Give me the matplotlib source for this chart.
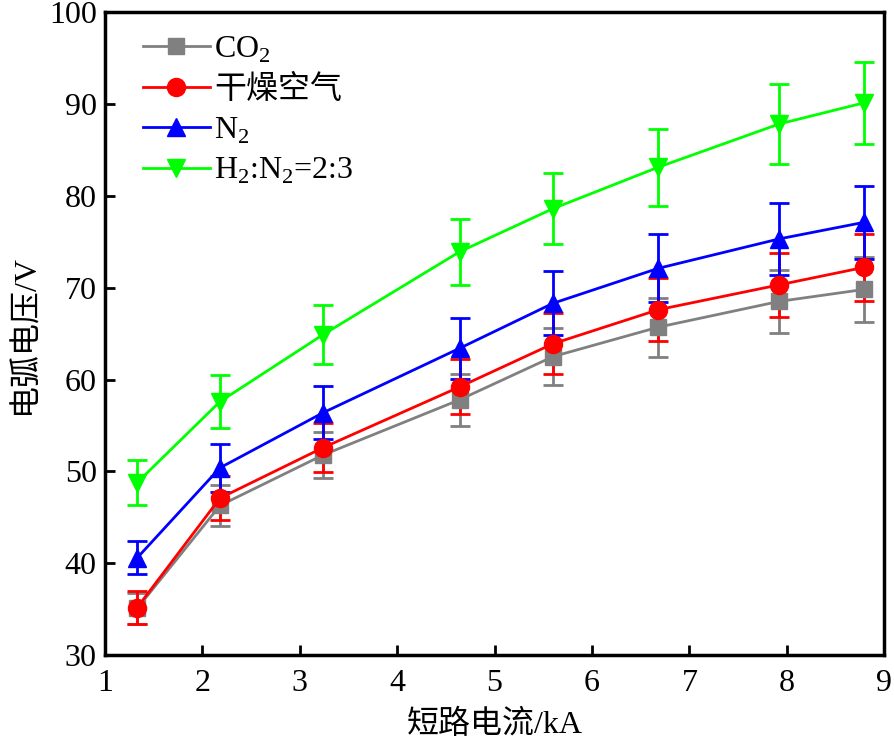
import numpy as np
import matplotlib.pyplot as plt
from matplotlib.lines import Line2D

plt.rcParams['font.family'] = ['Liberation Serif', 'Noto Sans CJK SC']
plt.rcParams['mathtext.fontset'] = 'custom'
plt.rcParams['mathtext.rm'] = 'Liberation Serif'

# ----------------------------------
# Data
# ----------------------------------

current = [1.33, 2.18, 3.24, 4.64, 5.60, 6.68, 7.92, 8.79]

co2 = [35.1, 46.3, 51.8, 57.8, 62.5, 65.7, 68.5, 69.8]
co2_err = [1.7, 2.2, 2.5, 2.8, 3.1, 3.2, 3.4, 3.5]

air = [35.2, 47.1, 52.6, 59.2, 63.9, 67.6, 70.3, 72.2]
air_err = [1.8, 2.4, 2.7, 3.0, 3.3, 3.4, 3.5, 3.6]

n2 = [40.6, 50.4, 56.4, 63.4, 68.3, 72.1, 75.3, 77.1]
n2_err = [1.8, 2.6, 2.9, 3.3, 3.5, 3.7, 3.9, 4.0]

h2n2 = [48.8, 57.6, 64.9, 73.9, 78.6, 83.1, 87.8, 90.1]
h2n2_err = [2.5, 2.9, 3.2, 3.6, 3.9, 4.2, 4.4, 4.5]

series = [
    (co2, co2_err, "gray", "s", 12, r"CO$_\mathregular{2}$"),
    (air, air_err, "red", "o", 13, "干燥空气"),
    (n2, n2_err, "blue", "^", 13, r"N$_\mathregular{2}$"),
    (h2n2, h2n2_err, "#00ff00", "v", 13,
     r"H$_\mathregular{2}$:N$_\mathregular{2}$=2:3"),
]

# ----------------------------------
# Plot
# ----------------------------------

fig = plt.figure(figsize=(8.94, 7.43), dpi=100)
ax = fig.add_axes([0.1175, 0.118, 0.8715, 0.866])

handles = []
for vals, errs, color, marker, ms, label in series:
    ax.errorbar(
        current, vals, yerr=errs,
        color=color, marker=marker, markersize=ms,
        linewidth=2, elinewidth=2, capsize=7, capthick=2
    )
    handles.append(Line2D([], [], color=color, marker=marker,
                          markersize=ms, linewidth=2, label=label))

ax.set_xlim(1, 9)
ax.set_ylim(30, 100)
ax.set_xticks(range(1, 10))
ax.set_yticks(range(30, 101, 10))

ax.tick_params(direction="in", length=7, width=2, labelsize=23,
               top=False, right=False)
ax.tick_params(axis="x", pad=10)
ax.tick_params(axis="y", pad=6)
for sp in ax.spines.values():
    sp.set_linewidth(2.5)

ax.set_xlabel("短路电流/kA", fontsize=23, labelpad=8)
ax.set_ylabel("电弧电压/V", fontsize=23, labelpad=6)

ax.legend(
    handles=handles,
    loc="upper left", bbox_to_anchor=(0.04, 0.975),
    frameon=False, fontsize=23,
    handlelength=2.1, handletextpad=0.15, labelspacing=0.32,
    borderaxespad=0.0, borderpad=0.2
)

fig.savefig("out.png", dpi=100)
